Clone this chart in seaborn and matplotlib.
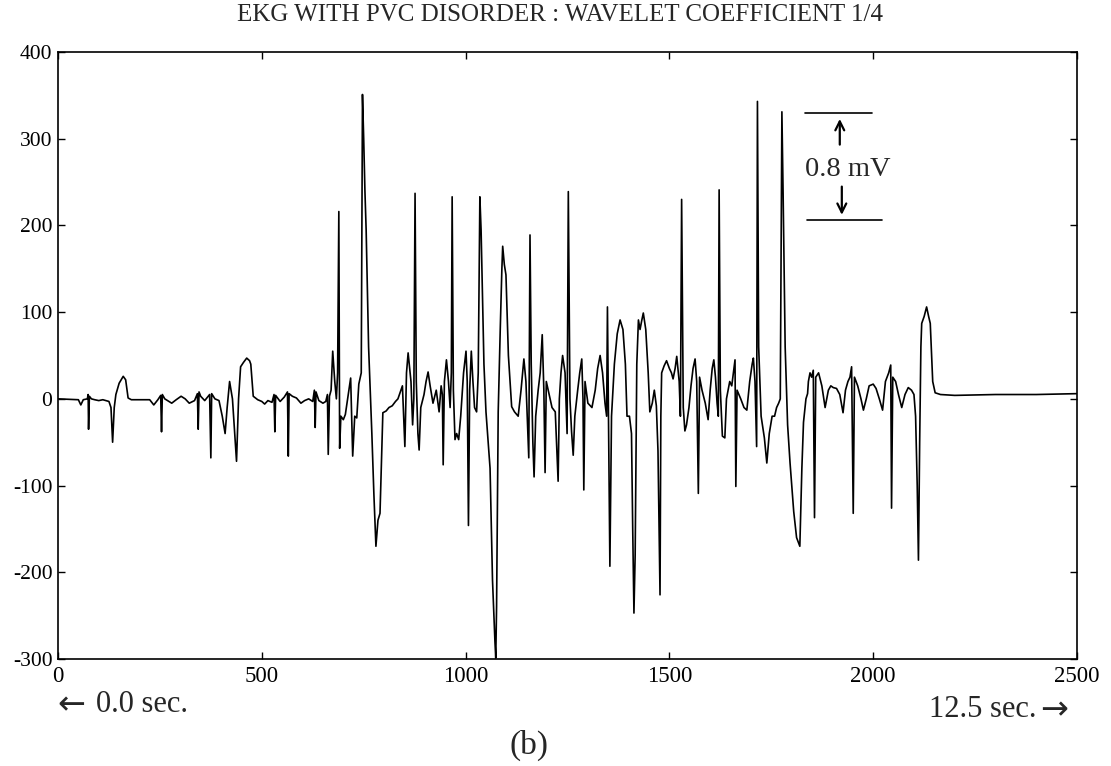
import matplotlib
matplotlib.use("Agg")
import matplotlib.pyplot as plt
import seaborn as sns
import pandas as pd

# ---- data ----
sample_idx = [0, 50, 56, 62, 72, 74, 75, 77, 82, 90, 100, 110, 125, 130, 134, 138, 142, 150, 160, 166,
              172, 180, 225, 235, 245, 252, 254, 256, 262, 279, 290, 302, 312, 322, 335, 342, 344, 346, 350, 360,
              372, 375, 377, 385, 395, 403, 410, 415, 421, 428, 438, 443, 448, 455, 463, 470, 473, 479, 490, 500,
              507, 515, 525, 530, 532, 534, 545, 555, 563, 565, 567, 575, 585, 596, 605, 615, 625, 629, 631, 633,
              640, 650, 657, 661, 663, 666, 670, 674, 679, 683, 686, 689, 691, 694, 700, 705, 712, 718, 723, 728,
              733, 738, 744, 747, 750, 753, 756, 762, 770, 775, 780, 785, 790, 797, 805, 812, 820, 828, 834, 839,
              845, 851, 855, 859, 866, 870, 873, 876, 879, 883, 886, 890, 898, 903, 908, 913, 920, 928, 935, 940,
              943, 945, 948, 953, 958, 962, 965, 967, 970, 974, 978, 983, 988, 995, 1001, 1004, 1007, 1010, 1014, 1018,
              1022, 1027, 1031, 1035, 1038, 1045, 1050, 1060, 1066, 1072, 1074, 1076, 1080, 1085, 1089, 1091, 1095, 1099, 1105, 1113,
              1120, 1129, 1136, 1143, 1148, 1152, 1155, 1158, 1161, 1165, 1168, 1172, 1178, 1183, 1188, 1192, 1195, 1198, 1205, 1212,
              1220, 1227, 1230, 1234, 1238, 1244, 1249, 1252, 1256, 1260, 1264, 1268, 1275, 1280, 1285, 1288, 1290, 1293, 1300, 1310,
              1318, 1324, 1330, 1336, 1342, 1346, 1348, 1351, 1354, 1358, 1365, 1372, 1379, 1386, 1392, 1396, 1402, 1407, 1410, 1413,
              1416, 1420, 1424, 1428, 1432, 1436, 1442, 1448, 1452, 1458, 1463, 1468, 1472, 1477, 1479, 1481, 1487, 1493, 1500, 1505,
              1509, 1514, 1518, 1524, 1527, 1530, 1534, 1538, 1542, 1548, 1553, 1558, 1563, 1567, 1571, 1574, 1580, 1588, 1595, 1600,
              1605, 1609, 1613, 1617, 1620, 1622, 1625, 1630, 1636, 1640, 1648, 1653, 1657, 1661, 1663, 1666, 1675, 1683, 1690, 1697,
              1703, 1706, 1710, 1714, 1716, 1719, 1725, 1733, 1739, 1745, 1752, 1758, 1763, 1768, 1772, 1776, 1779, 1784, 1790, 1796,
              1805, 1812, 1820, 1825, 1829, 1835, 1839, 1841, 1845, 1849, 1853, 1856, 1859, 1866, 1874, 1882, 1890, 1896, 1902, 1910,
              1918, 1926, 1932, 1938, 1943, 1947, 1951, 1954, 1962, 1970, 1976, 1983, 1990, 2000, 2007, 2015, 2023, 2030, 2038, 2043,
              2045, 2048, 2055, 2062, 2070, 2078, 2086, 2094, 2100, 2104, 2108, 2111, 2114, 2117, 2119, 2125, 2131, 2136, 2140, 2146,
              2152, 2165, 2200, 2300, 2400, 2499]
coef_values = [0, -1, -7, -1, 0, 5, -35, 3, 0, -1, -2, -1, -3, -10, -50, -10, 5, 18, 26, 22,
               1, -1, -1, -7, -1, 4, -38, 5, 0, -5, -1, 3, 0, -5, -2, 6, -35, 8, 3, -2,
               5, -68, 6, 0, -2, -20, -40, -10, 20, 0, -72, 0, 37, 42, 47, 44, 40, 3, -1, -3,
               -6, -2, -4, 5, -38, 4, -3, 2, 8, -66, 6, 3, 1, -5, -2, 0, -3, 10, -33, 8,
               -2, -5, -3, 5, -64, 3, 10, 55, 20, 0, 30, 216, -57, -20, -24, -18, 5, 24, -66, -20,
               -22, 17, 30, 351, 300, 240, 195, 60, -40, -110, -170, -140, -132, -16, -14, -10, -8, -3, 0, 7,
               15, -55, 30, 53, 20, -30, 0, 237, 20, -40, -59, -10, 5, 20, 31, 15, -5, 10, -15, 15,
               5, -76, 20, 45, 20, -10, 30, 233, 10, -47, -40, -47, -20, 30, 55, 20, -146, 10, 55, 20,
               -10, -15, 30, 233, 195, 40, -15, -80, -209, -280, -299, -240, -15, 80, 150, 176, 155, 143, 50, -9,
               -15, -20, 10, 46, 20, -30, -68, 189, 40, -50, -90, -20, 10, 30, 74, 10, -85, 20, 5, -10,
               -15, -95, 0, 30, 50, 30, -40, 239, 0, -38, -65, -20, 10, 30, 46, 0, -105, 20, -5, -10,
               10, 35, 50, 30, -5, -20, 106, -50, -193, -20, 40, 75, 91, 80, 40, -20, -20, -40, -150, -247,
               -180, 40, 91, 80, 90, 99, 80, 30, -15, -5, 10, -8, -60, -226, -20, 30, 38, 44, 35, 30,
               23, 35, 49, 20, -20, 230, -10, -37, -30, -10, 15, 35, 46, 20, -109, 25, 10, -5, -24, 10,
               35, 45, 25, -5, -20, 241, 10, -43, -45, 0, 20, 15, 30, 45, -101, 10, 0, -10, -13, 20,
               40, 47, 20, -55, 343, 60, -20, -45, -74, -40, -20, -20, -10, -5, 0, 331, 236, 60, -30, -74,
               -130, -160, -170, -80, -27, 0, 6, 20, 30, 25, 33, -137, 25, 30, 15, -10, 10, 15, 13, 12,
               5, -16, 10, 20, 25, 37, -132, 25, 15, 0, -13, 0, 15, 17, 12, 0, -13, 20, 30, 39,
               -126, 25, 20, 5, -10, 5, 13, 10, 5, -20, -100, -186, -50, 60, 87, 95, 106, 95, 87, 20,
               7, 5, 4, 5, 5, 6]

x_ticks = [0, 500, 1000, 1500, 2000, 2500]
y_ticks = [-300, -200, -100, 0, 100, 200, 300, 400]

title_text = "EKG WITH PVC DISORDER : WAVELET COEFFICIENT 1/4"
left_arrow = "\u2190"
left_note = "0.0 sec."
right_note = "12.5 sec."
right_arrow = "\u2192"
panel_label = "(b)"
scale_label = "0.8 mV"

# ---- style ----
sns.set_style("ticks")
plt.rcParams['font.family'] = ['Liberation Serif', 'DejaVu Serif']

fig = plt.figure(figsize=(11.11, 7.66), dpi=100)
ax = fig.add_axes([0.0522, 0.1397, 0.9172, 0.7924])

df = pd.DataFrame({"sample": sample_idx, "coef": coef_values})
sns.lineplot(data=df, x="sample", y="coef", ax=ax, color="black",
             linewidth=1.2, sort=False, estimator=None)

ax.set_xlim(0, 2500)
ax.set_ylim(-300, 400)
ax.set_xticks(x_ticks)
ax.set_yticks(y_ticks)
ax.set_xticklabels([str(v) for v in x_ticks], fontsize=16.5)
ax.set_yticklabels([str(v) for v in y_ticks], fontsize=15.5)
ax.set_xlabel("")
ax.set_ylabel("")
ax.tick_params(direction="in", top=True, right=True, length=5, width=1,
               colors="black")
ax.tick_params(axis="x", pad=5)
ax.tick_params(axis="y", pad=4)
for s in ax.spines.values():
    s.set_linewidth(1.2)
    s.set_color("black")

# scale bar annotation
ax.plot([1833, 1997], [330, 330], color="black", lw=1.2)
ax.plot([1837, 2021], [206, 206], color="black", lw=1.2)
ax.annotate("", xy=(1918, 326), xytext=(1918, 290),
            arrowprops=dict(arrowstyle="->", lw=1.6, color="black",
                            mutation_scale=16))
ax.annotate("", xy=(1923, 209), xytext=(1923, 248),
            arrowprops=dict(arrowstyle="->", lw=1.6, color="black",
                            mutation_scale=16))
ax.text(1938, 264, scale_label, ha="center", va="center", fontsize=20.5)

fig.text(0.504, 0.980, title_text, ha="center", va="center", fontsize=18)
fig.text(0.0513, 0.080, left_arrow, ha="left", va="center", fontsize=24,
         family="DejaVu Sans")
fig.text(0.0864, 0.080, left_note, ha="left", va="center", fontsize=22)
fig.text(0.9330, 0.074, right_note, ha="right", va="center", fontsize=22)
fig.text(0.9613, 0.074, right_arrow, ha="right", va="center", fontsize=24,
         family="DejaVu Sans")
fig.text(0.476, 0.027, panel_label, ha="center", va="center", fontsize=24)

fig.savefig("out.png", dpi=100)
